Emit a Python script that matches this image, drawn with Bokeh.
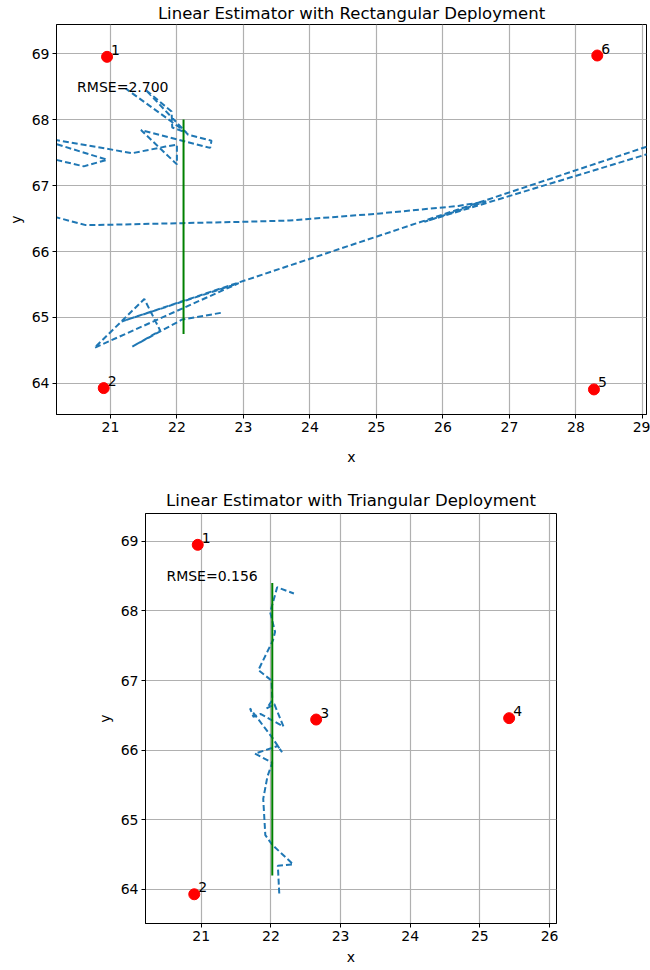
from bokeh.plotting import figure
from bokeh.models import FixedTicker, Range1d, ColumnDataSource, Label
from bokeh.core.properties import value
from bokeh.embed import file_html
from bokeh.resources import INLINE

FONT = "DejaVu Sans"

# ---------------- data: rectangular deployment ----------------
rect_anchor_id = ["1", "2", "5", "6"]
rect_anchor_x = [20.95, 20.90, 28.27, 28.32]
rect_anchor_y = [68.95, 63.93, 63.91, 68.97]
rect_true_x = [22.10, 22.10]
rect_true_y = [64.75, 68.00]
rect_est_x = [22.66, 22.08, 21.33, 21.75, 21.51, 20.76, 22.93, 21.17, 30.20,
              30.20, 25.72, 26.65, 26.23, 24.98, 23.94, 23.69, 22.99, 22.08,
              21.20, 20.63, 20.18, 19.90,
              19.90, 20.18, 20.60, 20.95, 20.18, 19.90,
              19.90, 20.18, 21.33, 21.83, 22.00, 22.00, 21.46, 22.50, 22.52,
              22.17, 21.53, 21.92, 21.93, 22.15, 21.23]
rect_est_y = [65.07, 64.97, 64.56, 64.80, 65.28, 64.54, 65.52, 64.94, 67.97,
              67.82, 66.45, 66.76, 66.69, 66.57, 66.49, 66.47, 66.45, 66.43,
              66.41, 66.40, 66.52, 66.65,
              67.47, 67.39, 67.29, 67.39, 67.63, 67.72,
              67.74, 67.69, 67.49, 67.59, 67.62, 67.32, 67.84, 67.57, 67.68,
              67.77, 68.45, 68.12, 67.88, 67.80, 68.47]
rect_rmse = "RMSE=2.700"
rect_xticks = [21, 22, 23, 24, 25, 26, 27, 28, 29]
rect_yticks = [64, 65, 66, 67, 68, 69]

# ---------------- data: triangular deployment ----------------
tri_anchor_id = ["1", "2", "3", "4"]
tri_anchor_x = [20.95, 20.90, 22.65, 25.42]
tri_anchor_y = [68.95, 63.93, 66.44, 66.46]
tri_true_x = [22.02, 22.02]
tri_true_y = [64.20, 68.40]
tri_est_x = [22.12, 22.10, 22.32, 22.02, 21.92, 21.89, 21.95, 22.02, 21.77,
             22.10, 22.16, 22.02, 21.70, 21.75, 21.85, 22.18, 22.05, 21.94,
             22.02, 22.01, 21.82, 22.03, 22.06, 21.99, 22.09, 22.33]
tri_est_y = [63.94, 64.34, 64.36, 64.64, 64.78, 65.30, 65.62, 65.82, 65.95,
             66.06, 65.97, 66.18, 66.60, 66.48, 66.52, 66.34, 66.66, 66.60,
             66.72, 67.00, 67.15, 67.58, 67.70, 67.98, 68.34, 68.25]
tri_rmse = "RMSE=0.156"
tri_xticks = [21, 22, 23, 24, 25, 26]
tri_yticks = [64, 65, 66, 67, 68, 69]


def make_plot(title, xr, yr, xticks, yticks, ax, ay, aid, tx, ty, ex, ey, rmse,
              fw, fh, mbl, mbr, mbt, mbb, xlab_standoff, title_standoff):
    p = figure(title=title, x_range=Range1d(*xr), y_range=Range1d(*yr),
               frame_width=fw, frame_height=fh, min_border_left=mbl,
               min_border_right=mbr, min_border_top=mbt, min_border_bottom=mbb,
               output_backend="svg", toolbar_location=None,
               background_fill_color="white", border_fill_color="white")
    p.title.text_font = FONT
    p.title.text_font_size = "16.5px"
    p.title.text_font_style = "normal"
    p.title.text_color = "black"
    p.title.align = "center"
    p.title.standoff = title_standoff
    p.outline_line_color = "black"
    p.outline_line_width = 1
    p.outline_line_alpha = 1
    for axis, lab, ticks in ((p.xaxis[0], "x", xticks), (p.yaxis[0], "y", yticks)):
        axis.ticker = FixedTicker(ticks=ticks)
        axis.axis_label = lab
        axis.axis_label_text_font = FONT
        axis.axis_label_text_font_size = "14px"
        axis.axis_label_text_font_style = "normal"
        axis.axis_label_text_color = "black"
        axis.major_label_text_font = FONT
        axis.major_label_text_font_size = "14px"
        axis.major_label_text_color = "black"
        axis.axis_line_color = "black"
        axis.major_tick_line_color = "black"
        axis.major_tick_out = 4
        axis.major_tick_in = 0
        axis.minor_tick_line_color = None
        axis.major_label_standoff = 3
        axis.axis_label_standoff = 5
    p.xaxis[0].axis_label_standoff = xlab_standoff
    p.xgrid.ticker = FixedTicker(ticks=xticks)
    p.ygrid.ticker = FixedTicker(ticks=yticks)
    for g in (p.xgrid[0], p.ygrid[0]):
        g.grid_line_color = "#b0b0b0"
        g.grid_line_width = 1.2
        g.grid_line_alpha = 1

    p.line(ex, ey, line_color="#1f77b4", line_width=2, line_dash="6 3")
    p.line(tx, ty, line_color="green", line_width=2)
    src = ColumnDataSource(dict(x=ax, y=ay, t=aid))
    p.scatter("x", "y", source=src, size=11, fill_color="red", line_color="red")
    p.text("x", "y", text="t", source=src, x_offset=4, y_offset=-2,
           text_font=value(FONT), text_font_size="14px",
           text_baseline="bottom", text_align="left", text_color="black")
    p.add_layout(Label(x=20.5, y=68.5, text=rmse, text_font=FONT,
                       text_font_size="14px", text_baseline="alphabetic",
                       text_color="black"))
    return p


p1 = make_plot("Linear Estimator with Rectangular Deployment",
               (20.19, 29.06), (63.53, 69.44), rect_xticks, rect_yticks,
               rect_anchor_x, rect_anchor_y, rect_anchor_id,
               rect_true_x, rect_true_y, rect_est_x, rect_est_y, rect_rmse,
               590, 390, 56, 4, 20, 56, 14, 3)
p2 = make_plot("Linear Estimator with Triangular Deployment",
               (20.2, 26.1), (63.51, 69.4), tri_xticks, tri_yticks,
               tri_anchor_x, tri_anchor_y, tri_anchor_id,
               tri_true_x, tri_true_y, tri_est_x, tri_est_y, tri_rmse,
               411, 410, 145, 86, 43, 39, 5, 7)

open("out.html", "w").write(file_html([p1, p2], INLINE))
